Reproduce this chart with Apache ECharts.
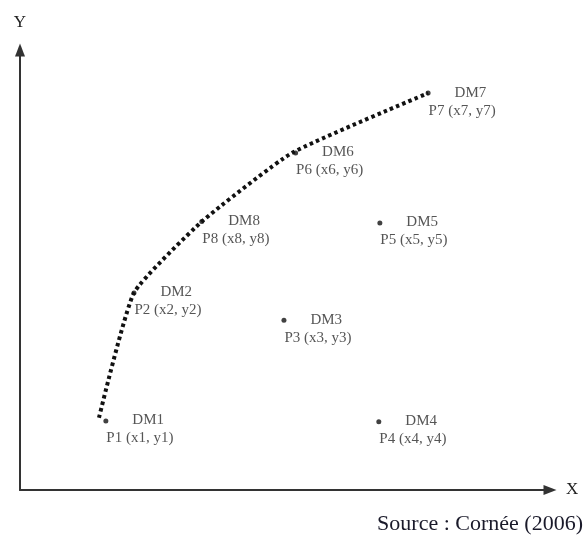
<!DOCTYPE html>
<html>
<head>
<meta charset="utf-8">
<script src="https://cdn.jsdelivr.net/npm/echarts@6/dist/echarts.min.js"></script>
<style>html,body{margin:0;padding:0;background:#fff}#c{width:585px;height:538px}</style>
</head>
<body>
<div id="c"></div>
<script>
// Data (arbitrary units, axes 0..10)
const pointNames = ['DM1', 'DM2', 'DM3', 'DM4', 'DM5', 'DM6', 'DM7', 'DM8'];
const pointLabels = ['P1 (x1, y1)', 'P2 (x2, y2)', 'P3 (x3, y3)', 'P4 (x4, y4)', 'P5 (x5, y5)', 'P6 (x6, y6)', 'P7 (x7, y7)', 'P8 (x8, y8)'];
const xValues = [1.62, 2.15, 4.98, 6.77, 6.79, 5.20, 7.70, 3.43];
const yValues = [1.57, 4.48, 3.86, 1.55, 6.07, 7.66, 9.02, 6.10];
// dotted frontier path (DM1 -> DM2 -> DM8 -> DM6 -> DM7)
const pathX = [1.49, 2.15, 3.43, 5.13, 7.70];
const pathY = [1.64, 4.48, 6.10, 7.66, 9.02];
const axisNames = ['X', 'Y'];
const sourceText = 'Source : Cornée (2006)';

const chart = echarts.init(document.getElementById('c'), null, {renderer: 'canvas'});
const axisCommon = {
  type: 'value', min: 0, max: 10,
  axisTick: {show: false}, axisLabel: {show: false}, splitLine: {show: false},
  axisLine: {show: true, onZero: false, symbol: ['none', 'triangle'], symbolSize: [10, 13], symbolOffset: [0, 0],
    lineStyle: {color: '#333', width: 2}},
  nameTextStyle: {fontFamily: 'Liberation Serif', fontSize: 17, color: '#222'}
};
chart.setOption({
  animation: false,
  grid: {left: 20, right: 35, top: 50, bottom: 48, containLabel: false},
  xAxis: Object.assign({}, axisCommon, {name: axisNames[0], nameLocation: 'end', nameGap: 16,
    nameTextStyle: Object.assign({}, axisCommon.nameTextStyle, {padding: [8, 0, 0, 0]})}),
  yAxis: Object.assign({}, axisCommon, {name: axisNames[1], nameLocation: 'end', nameGap: 19,
    nameTextStyle: Object.assign({}, axisCommon.nameTextStyle, {align: 'center'})}),
  graphic: [{type: 'text', right: 2, bottom: 3,
    style: {text: sourceText, fontFamily: 'Liberation Serif', fontSize: 22, fill: '#1a1a2a'}}],
  series: [
    {type: 'line', data: pathX.map((x, i) => [x, pathY[i]]), symbol: 'none', smooth: 0.15,
      lineStyle: {color: '#111', width: 4, type: [3.5, 3.2], cap: 'butt'}, z: 2},
    {type: 'scatter', symbol: 'circle', symbolSize: 5, itemStyle: {color: '#111'}, z: 3,
      data: xValues.map((x, i) => ({value: [x, yValues[i]], name: pointNames[i]})),
      label: {show: true, position: [3, -7], align: 'left', verticalAlign: 'top',
        formatter: p => '{dm|' + p.name + '}\n{p|' + pointLabels[p.dataIndex] + '}',
        rich: {
          dm: {fontFamily: 'Liberation Serif', fontSize: 15, color: '#2a2a2a', lineHeight: 18, padding: [0, 0, 0, 26]},
          p: {fontFamily: 'Liberation Serif', fontSize: 15, color: '#2a2a2a', lineHeight: 18}
        }}}
  ]
});
</script>
</body>
</html>
